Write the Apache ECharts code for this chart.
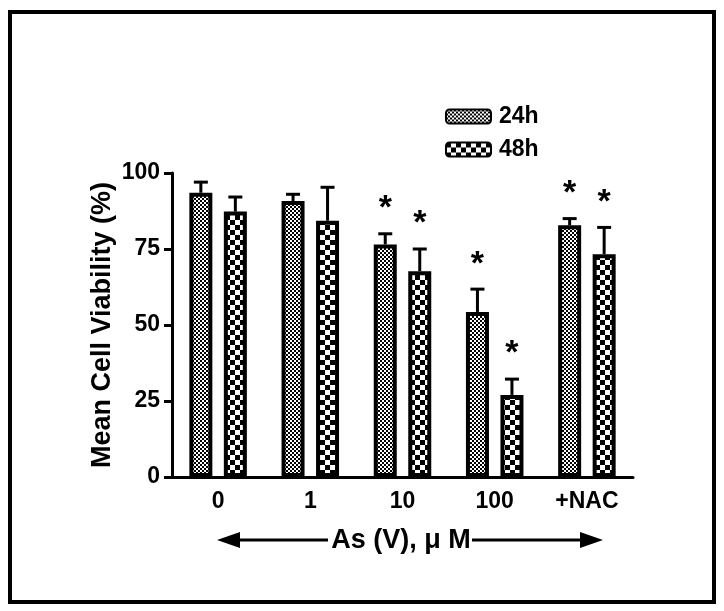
<!DOCTYPE html>
<html>
<head>
<meta charset="utf-8">
<script src="https://cdn.jsdelivr.net/npm/echarts@6/dist/echarts.min.js"></script>
<style>
html,body{margin:0;padding:0;background:#fff;}
#frame{position:absolute;left:8px;top:10px;width:700px;height:586px;border:4px solid #000;}
#chart{position:absolute;left:0;top:0;width:724px;height:611px;}
</style>
</head>
<body>
<div id="frame"></div>
<div id="chart"></div>
<script>
// ---- Data ----
const categories = ['0', '1', '10', '100', '+NAC'];
const seriesNames = ['24h', '48h'];
const mean24 = [93.5, 90.8, 76.5, 54.3, 82.8];
const err24  = [3.5, 2.2, 3.5, 7.5, 2.2];
const sig24  = [false, false, true, true, true];
const mean48 = [87.3, 84.3, 67.7, 27.0, 73.3];
const err48  = [4.8, 11.0, 7.3, 5.2, 8.8];
const sig48  = [false, false, true, true, true];
const yTicks = [0, 25, 50, 75, 100];
const yTitle = 'Mean Cell Viability (%)';
const xTitle = 'As (V), \u03bc M';

function checker(cell) {
  const c = document.createElement('canvas');
  c.width = cell * 2; c.height = cell * 2;
  const g = c.getContext('2d');
  g.fillStyle = '#fff'; g.fillRect(0, 0, c.width, c.height);
  g.fillStyle = '#000';
  g.fillRect(0, 0, cell, cell);
  g.fillRect(cell, cell, cell, cell);
  return c;
}
const pat24 = { image: checker(2), repeat: 'repeat' };
const pat48 = { image: checker(5), repeat: 'repeat' };

const BAR_W = 23, BAR_GAP = 0.5;
const OFFSET = BAR_W * (1 + BAR_GAP) / 2;

function errSeries(means, errs, dir) {
  return {
    type: 'custom',
    z: 5,
    data: means.map((m, i) => [i, m, m + errs[i]]),
    renderItem: function (params, api) {
      const p0 = api.coord([api.value(0), api.value(1)]);
      const p1 = api.coord([api.value(0), api.value(2)]);
      const x = p0[0] + dir * OFFSET;
      return {
        type: 'group',
        children: [
          { type: 'line', shape: { x1: x, y1: p0[1], x2: x, y2: p1[1] }, style: { stroke: '#000', lineWidth: 3 } },
          { type: 'line', shape: { x1: x - 7, y1: p1[1], x2: x + 7, y2: p1[1] }, style: { stroke: '#000', lineWidth: 3 } }
        ]
      };
    }
  };
}
function starSeries(means, errs, sig, dir) {
  return {
    type: 'custom',
    z: 6,
    data: means.map((m, i) => [i, m + errs[i], sig[i] ? 1 : 0]),
    renderItem: function (params, api) {
      if (!api.value(2)) return null;
      const p = api.coord([api.value(0), api.value(1)]);
      return {
        type: 'text',
        style: {
          x: p[0] + dir * OFFSET, y: p[1] - 25,
          text: '*', fill: '#000',
          font: 'bold 34px "Liberation Sans", Arial, sans-serif',
          align: 'center', verticalAlign: 'middle'
        }
      };
    }
  };
}

const chart = echarts.init(document.getElementById('chart'), null, { renderer: 'canvas' });
const bold = '"Liberation Sans", Arial, sans-serif';
chart.setOption({
  animation: false,
  backgroundColor: 'transparent',
  grid: { left: 172, right: 91, top: 173, bottom: 134 },
  legend: {
    left: 445, top: 105, orient: 'vertical', padding: 0,
    itemWidth: 45, itemHeight: 14, itemGap: 10,
    data: seriesNames,
    textStyle: { fontFamily: bold, fontWeight: 'bold', fontSize: 23, color: '#000', padding: [0, 0, 0, 3] }
  },
  xAxis: {
    type: 'category',
    data: categories,
    axisLine: { lineStyle: { color: '#000', width: 3 } },
    axisTick: { alignWithLabel: true, length: 8, lineStyle: { color: '#000', width: 3 } },
    axisLabel: { fontFamily: bold, fontWeight: 'bold', fontSize: 23, color: '#000', margin: 13 }
  },
  yAxis: {
    type: 'value', min: yTicks[0], max: yTicks[yTicks.length - 1], interval: 25,
    name: yTitle, nameLocation: 'middle', nameGap: 56, nameMoveOverlap: false,
    nameTextStyle: { fontFamily: bold, fontWeight: 'bold', fontSize: 27, color: '#000' },
    splitLine: { show: false },
    axisLine: { show: true, lineStyle: { color: '#000', width: 3 } },
    axisTick: { show: true, length: 8, lineStyle: { color: '#000', width: 3 } },
    axisLabel: { fontFamily: bold, fontWeight: 'bold', fontSize: 23, color: '#000', margin: 12 }
  },
  series: [
    { name: seriesNames[0], type: 'bar', data: mean24, barWidth: BAR_W, barGap: (BAR_GAP * 100) + '%',
      itemStyle: { color: pat24, borderColor: '#000', borderWidth: 4 } },
    { name: seriesNames[1], type: 'bar', data: mean48, barWidth: BAR_W, barGap: (BAR_GAP * 100) + '%',
      itemStyle: { color: pat48, borderColor: '#000', borderWidth: 4 } },
    errSeries(mean24, err24, -1),
    errSeries(mean48, err48, 1),
    starSeries(mean24, err24, sig24, -1),
    starSeries(mean48, err48, sig48, 1)
  ],
  graphic: [
    { type: 'line', shape: { x1: 235, y1: 540, x2: 328, y2: 540 }, style: { stroke: '#000', lineWidth: 3 } },
    { type: 'polygon', shape: { points: [[217, 540], [240, 532], [240, 548]] }, style: { fill: '#000' } },
    { type: 'text', style: { x: 401, y: 541, text: xTitle, fill: '#000', font: 'bold 27px ' + bold, align: 'center', verticalAlign: 'middle' } },
    { type: 'line', shape: { x1: 472, y1: 540, x2: 585, y2: 540 }, style: { stroke: '#000', lineWidth: 3 } },
    { type: 'polygon', shape: { points: [[603, 540], [580, 532], [580, 548]] }, style: { fill: '#000' } }
  ]
});
</script>
</body>
</html>
